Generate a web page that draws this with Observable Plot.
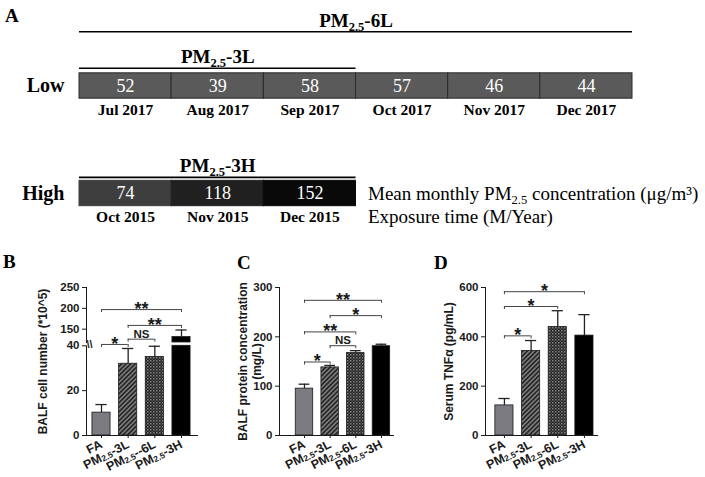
<!DOCTYPE html>
<html>
<head>
<meta charset="utf-8">
<script src="https://cdn.jsdelivr.net/npm/d3@7"></script>
<script src="https://cdn.jsdelivr.net/npm/@observablehq/plot@0.6"></script>
<style>
  html, body { margin: 0; padding: 0; background: #fff; }
  #fig { position: relative; width: 705px; height: 477px; overflow: hidden; background: #fff; }
  #fig svg { position: absolute; overflow: visible; }
  .panel-letter { position: absolute; font-family: "Liberation Serif", "Times New Roman", serif; font-weight: bold; font-size: 19px; line-height: 19px; color: #000; }
</style>
</head>
<body>
<div id="fig">
  <div class="panel-letter" style="left:5px;top:6px">A</div>
  <div class="panel-letter" style="left:3px;top:252px">B</div>
  <div class="panel-letter" style="left:237px;top:253px">C</div>
  <div class="panel-letter" style="left:434px;top:253px">D</div>
</div>
<script>
// ---------------- DATA ----------------
// Panel A
const lowMonths = ["Jul 2017", "Aug 2017", "Sep 2017", "Oct 2017", "Nov 2017", "Dec 2017"];
const lowPM = [52, 39, 58, 57, 46, 44];
const highMonths = ["Oct 2015", "Nov 2015", "Dec 2015"];
const highPM = [74, 118, 152];
const rowNames = ["Low", "High"];
const spanLabels = ["PM2.5-6L", "PM2.5-3L", "PM2.5-3H"];
const spanStart = [0, 0, 0];
const spanEnd = [6, 3, 3];
const legendLines = ["Mean monthly PM2.5 concentration (μg/m³)", "Exposure time (M/Year)"];

// Panels B–D
const groups = ["FA", "PM2.5-3L", "PM2.5-6L", "PM2.5-3H"];
const groupsB = ["FA", "PM2.5-3L", "PM2.5--6L", "PM2.5-3H"];
const cellMean = [10.2, 32.0, 35.0, 131];
const cellUpper = [13.8, 38.8, 39.8, 148];
const proteinMean = [95, 138, 167, 181];
const proteinUpper = [104, 142, 172, 185];
const tnfMean = [122, 343, 440, 405];
const tnfUpper = [150, 385, 506, 490];
// [from group, to group, label, bracket level]
const cellSig = [[0, 3, "**", 197], [1, 3, "**", 159], [0, 1, "*", 40.6], [1, 2, "NS", 126]];
const proteinSig = [[0, 3, "**", 274], [1, 3, "*", 243], [0, 2, "**", 210], [1, 2, "NS", 182], [0, 1, "*", 149]];
const tnfSig = [[0, 3, "*", 583], [0, 2, "*", 523], [0, 1, "*", 404]];
const cellTicksLow = [0, 20, 40];
const cellTicksHigh = [150, 200, 250];
const proteinTicks = [0, 100, 200, 300];
const tnfTicks = [0, 200, 400, 600];

// ---------------- LAYOUT / STYLE ----------------
const serif = "'Liberation Serif','Times New Roman',serif";
const sans = "'Liberation Sans',Arial,Helvetica,sans-serif";
const rowY = {Low: 0, High: 1};
const cellHalf = 0.118, monthOff = 0.222;
const spanLevel = [-0.505, -0.165, 0.85];
const highShade = d3.scaleLinear().domain([74, 152]).range(["#3e3e3e", "#090909"]);
const lowShade = "#5a5a5a";
const ns = "http://www.w3.org/2000/svg";
const fig = document.getElementById("fig");

function richText(svg, subSize, subDy) {
  svg.querySelectorAll("text, tspan").forEach(node => {
    if (node.children.length) return;
    const s = node.textContent;
    if (!s.includes("PM2.5")) return;
    const parts = s.split("PM2.5");
    node.textContent = "";
    parts.forEach((p, k) => {
      if (k === 0) { if (p) node.appendChild(document.createTextNode(p)); return; }
      node.appendChild(document.createTextNode("PM"));
      const sub = document.createElementNS(ns, "tspan");
      sub.setAttribute("font-size", subSize);
      sub.setAttribute("dy", subDy);
      sub.textContent = "2.5";
      node.appendChild(sub);
      const rest = document.createElementNS(ns, "tspan");
      rest.setAttribute("dy", -subDy);
      rest.textContent = p;
      node.appendChild(rest);
    });
  });
}

function place(svg, left, top) {
  svg.style.left = left + "px";
  svg.style.top = top + "px";
  fig.appendChild(svg);
}

// ---------------- PANEL A ----------------
const cells = [
  ...lowPM.map((v, i) => ({row: "Low", i, v, month: lowMonths[i]})),
  ...highPM.map((v, i) => ({row: "High", i, v, month: highMonths[i]}))
];
const spans = spanLabels.map((label, k) => ({label, start: spanStart[k], end: spanEnd[k], level: spanLevel[k]}));
const cellFill = d => d.row === "Low" ? lowShade : highShade(d.v);

const svgA = Plot.plot({
  width: 705, height: 235, margin: 0,
  x: {domain: [0, 6], range: [79, 632], axis: null},
  y: {domain: [0, 1], range: [85.5, 193], axis: null},
  color: {type: "identity"},
  style: {fontFamily: serif, background: "transparent", overflow: "visible", color: "#000"},
  marks: [
    Plot.rect(cells, {x1: "i", x2: d => d.i + 1, y1: d => rowY[d.row] - cellHalf, y2: d => rowY[d.row] + cellHalf,
      fill: cellFill, stroke: d => d.row === "Low" ? "#2a2a2a" : cellFill(d), strokeWidth: 1}),
    Plot.text(cells, {x: d => d.i + 0.5, y: d => rowY[d.row], text: d => String(d.v), fill: "#fff", fontSize: 18}),
    Plot.text(cells, {x: d => d.i + 0.5, y: d => rowY[d.row] + monthOff, text: "month", fontSize: 15.5, fontWeight: "bold", fill: "#000"}),
    Plot.ruleY(spans, {x1: "start", x2: "end", y: "level", stroke: "#000", strokeWidth: 1.6}),
    Plot.text(spans, {x: d => (d.start + d.end) / 2, y: "level", text: "label", lineAnchor: "bottom", dy: -5, fontSize: 19, fontWeight: "bold", fill: "#000"}),
    Plot.text(rowNames, {x: 0, y: d => rowY[d], text: d => d, textAnchor: "end", dx: -15, fontSize: 20, fontWeight: "bold", fill: "#000"}),
    Plot.text(legendLines, {x: 3, y: (d, i) => 1 + i * monthOff, text: d => d, textAnchor: "start", dx: 12, fontSize: 19, fill: "#000"})
  ]
});
richText(svgA, "66%", 4);
place(svgA, 0, 0);

// ---------------- PANELS B–D ----------------
function patternDefs(id) {
  return `<pattern id="${id}-hatch" patternUnits="userSpaceOnUse" width="3.2" height="3.2" patternTransform="rotate(45)">` +
    `<rect width="3.2" height="3.2" fill="#7a7a7a"/><rect width="1.6" height="3.2" fill="#262626"/></pattern>` +
    `<pattern id="${id}-check" patternUnits="userSpaceOnUse" width="3" height="3">` +
    `<rect width="3" height="3" fill="#222"/><rect width="1.5" height="1.5" fill="#858585"/>` +
    `<rect x="1.5" y="1.5" width="1.5" height="1.5" fill="#4a4a4a"/></pattern>`;
}

// One layer = one continuous y segment of a panel (panel B has two, split by an axis break)
function barLayer(o, L) {
  const bars = o.labels.map((g, i) => ({i, g, mean: o.means[i], upper: o.uppers[i]}));
  const segs = bars.filter(b => b.mean > L.lo).map(b => ({...b, y1: L.lo, y2: Math.min(b.mean, L.hi)}));
  const errs = bars.filter(b => b.mean >= L.lo && b.upper <= L.hi);
  const sig = o.sig.map(([a, b, label, level]) => ({a, b, label, level})).filter(s => s.level >= L.sigMin && s.level < L.sigMax);
  const ends = sig.flatMap(s => [{x: s.a, level: s.level}, {x: s.b, level: s.level}]);
  const fills = ["#7b7b81", `url(#${o.id}-hatch)`, `url(#${o.id}-check)`, "#000"];
  const marks = [
    Plot.rect(segs, {x1: d => d.i - 0.34, x2: d => d.i + 0.34, y1: "y1", y2: "y2", fill: d => fills[d.i], stroke: "#1a1a1a", strokeWidth: 0.8}),
    Plot.ruleX(errs, {x: "i", y1: "mean", y2: "upper", stroke: "#222", strokeWidth: 1.3}),
    Plot.ruleY(errs, {x1: d => d.i - 0.21, x2: d => d.i + 0.21, y: "upper", stroke: "#222", strokeWidth: 1.3}),
    Plot.ruleY(sig, {x1: "a", x2: "b", y: "level", stroke: "#444", strokeWidth: 1}),
    Plot.ruleX(ends, {x: "x", y1: "level", y2: "level", insetBottom: -3, stroke: "#444", strokeWidth: 1}),
    Plot.text(sig.filter(s => s.label !== "NS"), {x: d => (d.a + d.b) / 2, y: "level", text: "label", lineAnchor: "bottom", dy: 5.5, fontSize: 18}),
    Plot.text(sig.filter(s => s.label === "NS"), {x: d => (d.a + d.b) / 2, y: "level", text: "label", lineAnchor: "bottom", dy: -1.5, fontSize: 11.5})
  ];
  if (L.label) {
    marks.push(Plot.text([o.yLabel], {frameAnchor: "left", y: L.labelY, rotate: -90, dx: -o.labelOffset,
      lineAnchor: "top", textAnchor: "middle", text: d => d, fontSize: 12, lineHeight: 1.15}));
  }
  if (L.breakMark != null) {
    marks.push(Plot.text([L.breakMark], {frameAnchor: "left", y: d => d, text: () => "\\\\", fontSize: 11}));
  }
  const svg = Plot.plot({
    width: o.width, height: 237,
    marginLeft: o.ml, marginRight: o.mr, marginTop: L.mt, marginBottom: L.mb,
    x: L.xAxis
      ? {domain: o.xDomain, ticks: [0, 1, 2, 3], tickFormat: i => o.labels[i], tickRotate: -27, tickSize: 3, tickPadding: 5, line: true, label: null}
      : {domain: o.xDomain, axis: null},
    y: {domain: L.yDomain, ticks: L.yTicks, tickSize: 4, tickPadding: 3, line: true, label: null},
    color: {type: "identity"},
    style: {fontFamily: sans, fontSize: "11.5px", fontWeight: "bold", color: "#1a1a1a", background: "transparent", overflow: "visible"},
    marks
  });
  d3.select(svg).insert("defs", ":first-child").html(patternDefs(o.id));
  const tickNames = new Set(o.labels);
  svg.querySelectorAll("text").forEach(t => { if (tickNames.has(t.textContent)) t.setAttribute("font-size", 12.5); });
  richText(svg, "68%", 1);
  place(svg, o.left, 240);
  return svg;
}

// Panel B: broken y axis (0–40 below, 118–250 above)
const panelB = {id: "pb", left: 0, width: 232, ml: 86, mr: 35, xDomain: [-0.5625, 3.6],
  labels: groupsB, means: cellMean, uppers: cellUpper, sig: cellSig,
  yLabel: "BALF cell number (*10^5)", labelOffset: 49};
barLayer(panelB, {lo: 0, hi: 40, yDomain: [0, 40], yTicks: cellTicksLow, mt: 105.3, mb: 42, xAxis: true,
  sigMin: 0, sigMax: 118, label: true, labelY: 33, breakMark: 40.6});
barLayer({...panelB, id: "pb2"}, {lo: 118, hi: Infinity, yDomain: [118, 250], yTicks: cellTicksHigh, mt: 47, mb: 135, xAxis: false,
  sigMin: 118, sigMax: Infinity});

barLayer({id: "pc", left: 230, width: 200, ml: 49, mr: 37, xDomain: [-0.974, 3.47],
  labels: groups, means: proteinMean, uppers: proteinUpper, sig: proteinSig,
  yLabel: "BALF protein concentration\n(mg/L)", labelOffset: 42},
  {lo: 0, hi: Infinity, yDomain: [0, 300], yTicks: proteinTicks, mt: 47, mb: 42, xAxis: true, sigMin: 0, sigMax: Infinity, label: true});

barLayer({id: "pd", left: 420, width: 200, ml: 65, mr: 23, xDomain: [-0.71, 3.49],
  labels: groups, means: tnfMean, uppers: tnfUpper, sig: tnfSig,
  yLabel: "Serum TNFα (pg/mL)", labelOffset: 42},
  {lo: 0, hi: Infinity, yDomain: [0, 600], yTicks: tnfTicks, mt: 47, mb: 42, xAxis: true, sigMin: 0, sigMax: Infinity, label: true});
</script>
</body>
</html>
